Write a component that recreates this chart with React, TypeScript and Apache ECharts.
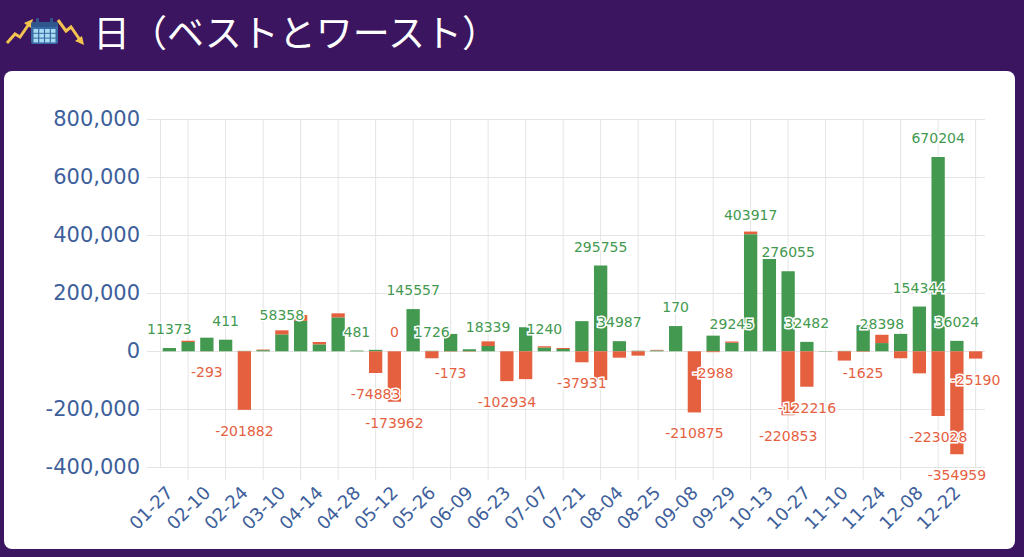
import { useEffect, useRef } from "react";
import * as echarts from "echarts";

// 週ごとのカテゴリ（ラベルは1つおきに表示）
const categories = [
  "01-27", "02-03", "02-10", "02-17", "02-24", "03-03", "03-10", "03-17",
  "04-14", "04-21", "04-28", "05-05", "05-12", "05-19", "05-26", "06-02",
  "06-09", "06-16", "06-23", "06-30", "07-07", "07-14", "07-21", "07-28",
  "08-04", "08-11", "08-25", "09-01", "09-08", "09-15", "09-29", "10-06",
  "10-13", "10-20", "10-27", "11-03", "11-10", "11-17", "11-24", "12-01",
  "12-08", "12-15", "12-22", "12-29",
];

// ベスト（緑）
const best = [
  11373, 32000, 47000, 40000, 1500, 4000, 58358, 105000,
  24000, 117000, 2500, 5000, 0, 145557, 1726, 60000,
  7000, 18339, 0, 83000, 13000, 8000, 104000, 295755,
  34987, 2000, 3000, 87000, 0, 54000, 29245, 403917,
  318000, 276055, 32482, 1000, 1500, 90000, 28398, 60000,
  154344, 670204, 36024, 0,
];

// ワースト（赤）
const worst = [
  0, 4500, -293, 0, -201882, 2000, 14000, 20000,
  8000, 14000, 0, -74883, -173962, 0, -24000, -1000,
  -1000, 16000, -102934, -96000, 4500, 3400, -37931, -99000,
  -22000, -15000, 2000, 0, -210875, -2988, 4500, 9000,
  0, -220853, -122216, 0, -32000, -1625, 28600, -24000,
  -76000, -223028, -354959, -25190,
];

// 上側に表示されている数値ラベル
const topLabels: (number | null)[] = [
  11373, null, null, 411, null, null, 58358, null,
  null, null, 481, null, 0, 145557, 1726, null,
  null, 18339, null, null, 1240, null, null, 295755,
  34987, null, null, 170, null, null, 29245, 403917,
  null, 276055, 32482, null, null, null, 28398, null,
  154344, 670204, 36024, null,
];

// 下側に表示されている数値ラベル
const bottomLabels: (number | null)[] = [
  null, null, -293, null, -201882, null, null, null,
  null, null, null, -74883, -173962, null, null, -173,
  null, null, -102934, null, null, null, -37931, null,
  null, null, null, null, -210875, -2988, null, null,
  null, -220853, -122216, null, null, -1625, null, null,
  null, -223028, -354959, -25190,
];

const Y_MIN = -400000;
const Y_MAX = 800000;

const GREEN = "#43994f";
const RED = "#e5603f";
const GRID = "#e4e4e4";
const AXIS_TEXT = "#3e5f9b";
const NUM_FONT = "DejaVu Sans";

export default function App() {
  const chartRef = useRef<HTMLDivElement>(null);

  useEffect(() => {
    if (!chartRef.current) return;
    const chart = echarts.init(chartRef.current, undefined, { renderer: "svg" });

    const labelItem = (v: number | null) =>
      v == null
        ? { show: false }
        : { show: true, formatter: String(v), color: v > 0 ? GREEN : RED };

    // 縦のグリッド線は1つおきのカテゴリ中心に引かれている
    const gridIdx = categories.map((_, i) => i).filter((i) => i % 2 === 1);

    const option = {
      animation: false,
      backgroundColor: "#3b1560",
      graphic: {
        elements: [
          {
            type: "rect",
            z: -10,
            shape: { x: 4, y: 71, width: 1011, height: 478, r: 8 },
            style: { fill: "#ffffff" },
          },
          {
            type: "text",
            x: 93,
            y: 31,
            style: {
              text: "日（ベストとワースト）",
              fill: "#ffffff",
              font: '37px "Noto Sans CJK JP"',
              verticalAlign: "middle",
            },
          },
          // アイコン：上昇ライン
          {
            type: "polyline",
            shape: { points: [[7, 43], [15, 34], [20, 37], [29, 24]] },
            style: { stroke: "#f3c34f", lineWidth: 3, fill: null },
          },
          {
            type: "polygon",
            shape: { points: [[33, 19], [24, 23], [31, 28]] },
            style: { fill: "#f3c34f" },
          },
          // アイコン：下降ライン
          {
            type: "polyline",
            shape: { points: [[58, 20], [66, 31], [71, 27], [80, 40]] },
            style: { stroke: "#f3c34f", lineWidth: 3, fill: null },
          },
          {
            type: "polygon",
            shape: { points: [[84, 45], [75, 41], [82, 36]] },
            style: { fill: "#f3c34f" },
          },
          // アイコン：カレンダー
          {
            type: "rect",
            shape: { x: 31, y: 22, width: 27, height: 22, r: 2 },
            style: { fill: "#3a6aa6" },
          },
          {
            type: "rect",
            shape: { x: 31, y: 22, width: 27, height: 5, r: 2 },
            style: { fill: "#2f578d" },
          },
          {
            type: "rect",
            shape: { x: 36, y: 18, width: 3, height: 6, r: 1 },
            style: { fill: "#2f578d" },
          },
          {
            type: "rect",
            shape: { x: 50, y: 18, width: 3, height: 6, r: 1 },
            style: { fill: "#2f578d" },
          },
          ...[0, 1, 2].flatMap((row) =>
            [0, 1, 2, 3].map((col) => ({
              type: "rect",
              shape: { x: 33.5 + col * 5.8, y: 29 + row * 4.8, width: 4.6, height: 3.8 },
              style: { fill: "#a9dcf3" },
            }))
          ),
        ],
      },
      grid: { left: 160, right: 39, top: 119.3, bottom: 89.7 },
      xAxis: {
        type: "category",
        data: categories,
        axisLine: { show: false },
        axisTick: { show: false },
        splitLine: { show: false },
        axisLabel: {
          interval: 1,
          rotate: 45,
          margin: 22,
          color: AXIS_TEXT,
          fontSize: 18,
          fontFamily: NUM_FONT,
        },
      },
      yAxis: {
        type: "value",
        min: Y_MIN,
        max: Y_MAX,
        interval: 200000,
        axisLine: { show: true, lineStyle: { color: GRID } },
        axisTick: { show: true, length: 13, lineStyle: { color: GRID } },
        splitLine: { lineStyle: { color: GRID } },
        axisLabel: {
          margin: 20,
          color: AXIS_TEXT,
          fontSize: 21,
          fontFamily: NUM_FONT,
          formatter: (v: number) => v.toLocaleString("en-US"),
        },
      },
      series: [
        {
          type: "custom",
          z: 1,
          silent: true,
          encode: { x: 0, y: 1 },
          data: gridIdx.map((i) => [i, 0]),
          renderItem: (_params: any, api: any) => {
            const i = api.value(0);
            const top = api.coord([i, Y_MAX]);
            const bottom = api.coord([i, Y_MIN]);
            return {
              type: "line",
              shape: { x1: top[0], y1: top[1], x2: bottom[0], y2: bottom[1] + 13 },
              style: { stroke: GRID, lineWidth: 1 },
            };
          },
        },
        {
          name: "ベスト",
          type: "bar",
          stack: "day",
          barWidth: "71%",
          itemStyle: { color: GREEN },
          label: {
            position: "top",
            distance: 12,
            fontSize: 14,
            fontFamily: NUM_FONT,
            textBorderColor: "#ffffff",
            textBorderWidth: 3,
          },
          data: best.map((v, i) => ({ value: v, label: labelItem(topLabels[i]) })),
        },
        {
          name: "ワースト",
          type: "bar",
          stack: "day",
          barWidth: "71%",
          itemStyle: { color: RED },
          label: {
            position: "bottom",
            distance: 14,
            fontSize: 14,
            fontFamily: NUM_FONT,
            textBorderColor: "#ffffff",
            textBorderWidth: 3,
          },
          data: worst.map((v, i) => ({ value: v, label: labelItem(bottomLabels[i]) })),
        },
      ],
    };

    chart.setOption(option);

    const handleResize = () => chart.resize();
    window.addEventListener("resize", handleResize);
    return () => {
      chart.dispose();
      window.removeEventListener("resize", handleResize);
    };
  }, []);

  return (
    <div
      ref={chartRef}
      style={{ position: "fixed", left: 0, top: 0, width: "1024px", height: "557px" }}
    ></div>
  );
}
